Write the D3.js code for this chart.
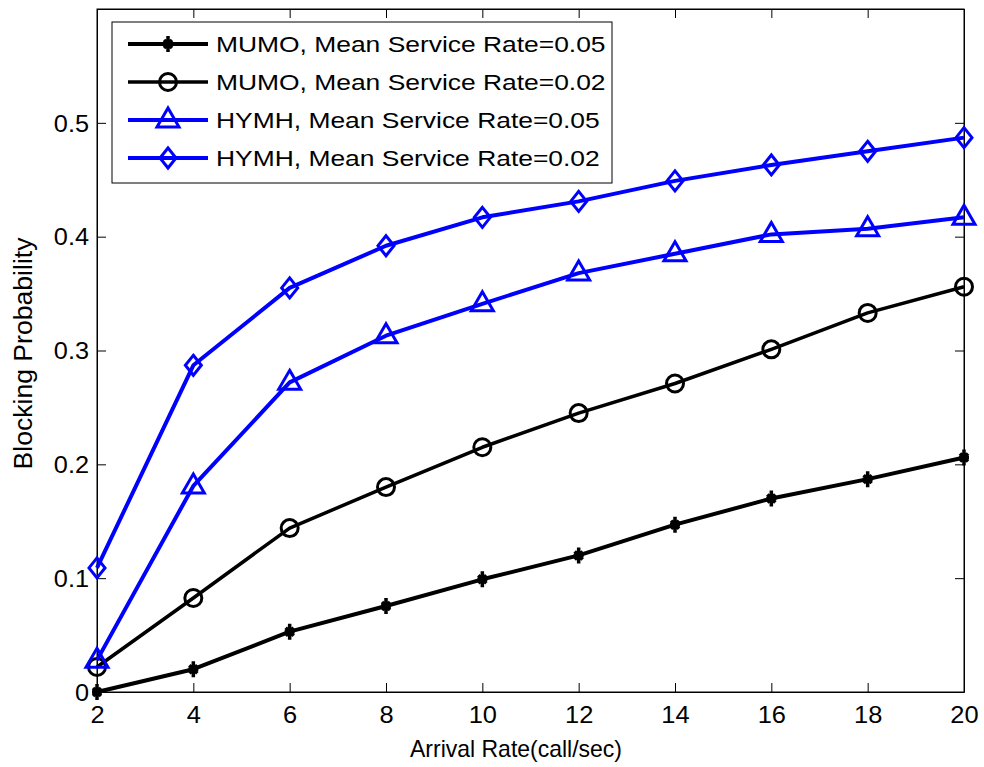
<!DOCTYPE html>
<html>
<head>
<meta charset="utf-8">
<script src="https://cdn.jsdelivr.net/npm/d3@7/dist/d3.min.js"></script>
<style>
  body { margin: 0; background: #fff; }
  svg text { font-family: Arial, "Liberation Sans", Helvetica, sans-serif; fill: #000; }
</style>
</head>
<body>
<div id="svg-div"></div>
<script>
const arrivalRates = [2, 4, 6, 8, 10, 12, 14, 16, 18, 20];
const mumo005 = [0.0, 0.020, 0.053, 0.0755, 0.099, 0.120, 0.147, 0.170, 0.187, 0.206];
const mumo002 = [0.022, 0.0826, 0.144, 0.180, 0.215, 0.245, 0.271, 0.301, 0.333, 0.356];
const hymh005 = [0.028, 0.181, 0.272, 0.313, 0.341, 0.368, 0.385, 0.402, 0.407, 0.417];
const hymh002 = [0.109, 0.287, 0.355, 0.392, 0.417, 0.431, 0.449, 0.463, 0.475, 0.487];
const seriesNames = ['MUMO, Mean Service Rate=0.05', 'MUMO, Mean Service Rate=0.02',
                     'HYMH, Mean Service Rate=0.05', 'HYMH, Mean Service Rate=0.02'];
const xTicks = [2, 4, 6, 8, 10, 12, 14, 16, 18, 20];
const yTicks = [0, 0.1, 0.2, 0.3, 0.4, 0.5];
const yTickLabels = ['0', '0.1', '0.2', '0.3', '0.4', '0.5'];

const width = 984;
const height = 767;
const plotLeft = 97, plotRight = 964, plotTop = 9, plotBottom = 692;

const series = [
    {name: seriesNames[0], values: mumo005, color: '#000', lw: 4, marker: 'star'},
    {name: seriesNames[1], values: mumo002, color: '#000', lw: 3.5, marker: 'circle'},
    {name: seriesNames[2], values: hymh005, color: '#0000ff', lw: 4, marker: 'triangle'},
    {name: seriesNames[3], values: hymh002, color: '#0000ff', lw: 4, marker: 'diamond'}
];

const xScale = d3.scaleLinear().domain([2, 20]).range([plotLeft, plotRight]);
const yScale = d3.scaleLinear().domain([0, 0.6]).range([plotBottom, plotTop]);

const svg = d3.select('#svg-div')
              .append('svg')
                .attr('width', width)
                .attr('height', height);

// stretch text horizontally to match the wide glyphs of the original
function stretch(sel, k) {
    sel.each(function() {
        const w = this.getComputedTextLength();
        d3.select(this).attr('textLength', w * k).attr('lengthAdjust', 'spacingAndGlyphs');
    });
}

// axes box
svg.append('rect')
   .attr('x', plotLeft).attr('y', plotTop)
   .attr('width', plotRight - plotLeft).attr('height', plotBottom - plotTop)
   .attr('fill', 'none').attr('stroke', '#000').attr('stroke-width', 1);

const xAxis = svg.append('g')
                 .attr('transform', `translate(0, ${plotBottom})`)
                 .call(d3.axisBottom(xScale).tickValues(xTicks).tickSizeInner(-9).tickSizeOuter(0).tickFormat(d3.format('d')));
xAxis.selectAll('text')
     .attr('y', 31).attr('dy', 0)
     .style('font-size', '24px');
stretch(xAxis.selectAll('text'), 1.06);

svg.append('g')
   .attr('transform', `translate(0, ${plotTop})`)
   .call(d3.axisTop(xScale).tickValues(xTicks).tickSizeInner(-9).tickSizeOuter(0).tickFormat(''));

const yAxis = svg.append('g')
                 .attr('transform', `translate(${plotLeft}, 0)`)
                 .call(d3.axisLeft(yScale).tickValues(yTicks).tickSizeInner(-9).tickSizeOuter(0)
                         .tickFormat((d, i) => yTickLabels[i]));
yAxis.selectAll('text')
     .attr('x', -8).attr('dy', '0.36em')
     .style('font-size', '23px');
stretch(yAxis.selectAll('text'), 1.1);

svg.append('g')
   .attr('transform', `translate(${plotRight}, 0)`)
   .call(d3.axisRight(yScale).tickValues(yTicks).tickSizeInner(-9).tickSizeOuter(0).tickFormat(''));

svg.selectAll('.domain').attr('stroke', '#000');
svg.selectAll('.tick line').attr('stroke', '#000');

// axis labels
svg.append('text')
   .attr('x', 516)
   .attr('y', 757)
   .attr('text-anchor', 'middle')
   .style('font-size', '24px')
   .attr('textLength', 212)
   .attr('lengthAdjust', 'spacingAndGlyphs')
   .text('Arrival Rate(call/sec)');

svg.append('text')
   .attr('transform', `translate(32, ${(plotTop + plotBottom) / 2 + 3}) rotate(-90)`)
   .attr('text-anchor', 'middle')
   .style('font-size', '25px')
   .attr('textLength', 232)
   .attr('lengthAdjust', 'spacingAndGlyphs')
   .text('Blocking Probability');

// markers
function drawMarker(g, type, color) {
    if (type === 'circle') {
        g.append('circle').attr('r', 8.5).attr('fill', 'none')
         .attr('stroke', color).attr('stroke-width', 3);
    } else if (type === 'triangle') {
        g.append('path').attr('d', 'M0,-12L11,7L-11,7Z').attr('fill', 'none')
         .attr('stroke', color).attr('stroke-width', 3).attr('stroke-linejoin', 'miter');
    } else if (type === 'diamond') {
        g.append('path').attr('d', 'M0,-10L8,0L0,10L-8,0Z').attr('fill', 'none')
         .attr('stroke', color).attr('stroke-width', 3);
    } else {
        g.append('path').attr('d', 'M0,-8L0,8M-4,-4L4,4M-4,4L4,-4M-5,0L5,0')
         .attr('stroke', color).attr('stroke-width', 3.5);
    }
}

const line = d3.line()
               .x((d, i) => xScale(arrivalRates[i]))
               .y(d => yScale(d));

series.forEach(function(s) {
    const g = svg.append('g');
    g.append('path')
     .attr('d', line(s.values))
     .attr('fill', 'none')
     .attr('stroke', s.color)
     .attr('stroke-width', s.lw)
     .attr('stroke-linejoin', 'round');
    s.values.forEach(function(v, i) {
        const m = g.append('g').attr('transform', `translate(${xScale(arrivalRates[i])}, ${yScale(v)})`);
        drawMarker(m, s.marker, s.color);
    });
});

// legend
const legend = svg.append('g');
legend.append('rect')
      .attr('x', 112).attr('y', 22)
      .attr('width', 500).attr('height', 161)
      .attr('fill', '#fff').attr('stroke', '#000').attr('stroke-width', 1);

series.forEach(function(s, i) {
    const cy = 44 + i * 38;
    legend.append('line')
          .attr('x1', 128).attr('x2', 208)
          .attr('y1', cy).attr('y2', cy)
          .attr('stroke', s.color).attr('stroke-width', s.lw);
    drawMarker(legend.append('g').attr('transform', `translate(168, ${cy})`), s.marker, s.color);
    const t = legend.append('text')
                    .attr('x', 216).attr('y', cy + 8)
                    .style('font-size', '22px')
                    .text(s.name);
    stretch(t, 1.2);
});
</script>
</body>
</html>
